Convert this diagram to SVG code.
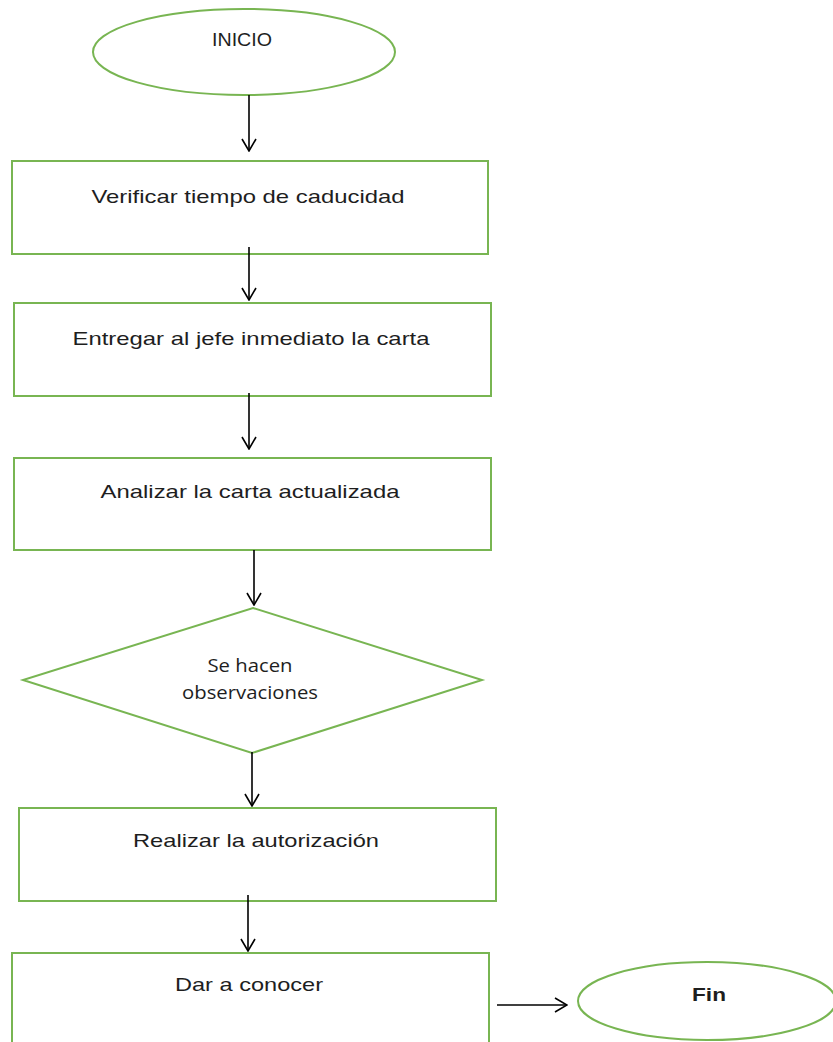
<svg xmlns="http://www.w3.org/2000/svg" width="833" height="1042" viewBox="0 0 833 1042">
<style>
.shape{fill:#ffffff;stroke:#78b552;stroke-width:2}
.lbl{font-family:"Liberation Sans",Arial,sans-serif;font-size:19px;fill:#1e1e1e;text-anchor:middle}
.dlbl{font-family:"Open Sans","Noto Sans",sans-serif;font-size:18px;fill:#1e1e1e;text-anchor:middle}
.conn{stroke:#000;stroke-width:1.6;fill:none}
</style>
<defs>
<marker id="ah" viewBox="0 0 14 16" refX="13" refY="8" markerWidth="14" markerHeight="16" markerUnits="userSpaceOnUse" orient="auto">
<path d="M1,1 L13,8 L1,15" fill="none" stroke="#000" stroke-width="1.6"/>
</marker>
</defs>
<rect width="833" height="1042" fill="#ffffff"/>
<g id="n-inicio">
<ellipse class="shape" cx="244" cy="52" rx="151" ry="43"/>
<text class="lbl" x="242" y="46" font-size="16" textLength="60" lengthAdjust="spacingAndGlyphs">INICIO</text>
</g>
<g id="n-verificar">
<rect class="shape" x="12" y="161" width="476" height="93"/>
<text class="lbl" x="248" y="203" textLength="313" lengthAdjust="spacingAndGlyphs">Verificar tiempo de caducidad</text>
</g>
<g id="n-entregar">
<rect class="shape" x="14" y="303" width="477" height="93"/>
<text class="lbl" x="251" y="345" textLength="357" lengthAdjust="spacingAndGlyphs">Entregar al jefe inmediato la carta</text>
</g>
<g id="n-analizar">
<rect class="shape" x="14" y="458" width="477" height="92"/>
<text class="lbl" x="250" y="498" textLength="299" lengthAdjust="spacingAndGlyphs">Analizar la carta actualizada</text>
</g>
<g id="n-decision">
<polygon class="shape" points="253,608 482,680 252,753 23,680"/>
<text class="dlbl" x="250" y="672" textLength="85" lengthAdjust="spacingAndGlyphs">Se hacen</text>
<text class="dlbl" x="250" y="699" textLength="136" lengthAdjust="spacingAndGlyphs">observaciones</text>
</g>
<g id="n-realizar">
<rect class="shape" x="19" y="808" width="477" height="93"/>
<text class="lbl" x="256" y="847" textLength="246" lengthAdjust="spacingAndGlyphs">Realizar la autorización</text>
</g>
<g id="n-dar">
<rect class="shape" x="12" y="953" width="477" height="100"/>
<text class="lbl" x="249" y="991" textLength="148" lengthAdjust="spacingAndGlyphs">Dar a conocer</text>
</g>
<g id="n-fin">
<ellipse class="shape" cx="707" cy="1001" rx="129" ry="39"/>
<text class="lbl" x="709" y="1001" font-weight="bold" textLength="34" lengthAdjust="spacingAndGlyphs">Fin</text>
</g>
<g id="connectors">
<line class="conn" x1="249" y1="95" x2="249" y2="151" marker-end="url(#ah)"/>
<line class="conn" x1="249" y1="247" x2="249" y2="300" marker-end="url(#ah)"/>
<line class="conn" x1="249" y1="393" x2="249" y2="449" marker-end="url(#ah)"/>
<line class="conn" x1="254" y1="550" x2="254" y2="605" marker-end="url(#ah)"/>
<line class="conn" x1="252" y1="752" x2="252" y2="806" marker-end="url(#ah)"/>
<line class="conn" x1="248" y1="895" x2="248" y2="951" marker-end="url(#ah)"/>
<line class="conn" x1="497" y1="1005" x2="567" y2="1005" marker-end="url(#ah)"/>
</g>
</svg>
